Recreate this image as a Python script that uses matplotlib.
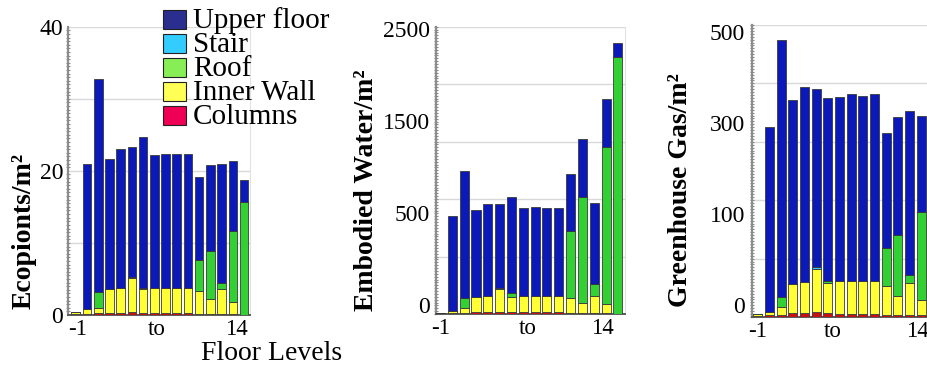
import matplotlib
matplotlib.use("Agg")
import matplotlib.pyplot as plt
from matplotlib.patches import Rectangle
from matplotlib.ticker import MultipleLocator
import numpy as np

# ---------------- data ----------------
floors = list(range(-1, 15))          # 16 floor levels
components = ["Columns", "Inner Wall", "Roof", "Stair", "Upper floor"]  # bottom -> top

eco_columns = [0.1, 0.2, 0.3, 0.3, 0.3, 0.4, 0.3, 0.3, 0.3, 0.3, 0.3, 0.2, 0.2, 0.2, 0.2, 0.0]
eco_inner   = [0.3, 0.6, 0.7, 3.3, 3.4, 4.7, 3.3, 3.4, 3.4, 3.4, 3.4, 3.1, 2.0, 3.4, 1.6, 0.0]
eco_roof    = [0.0, 0.0, 2.2, 0.0, 0.0, 0.0, 0.2, 0.0, 0.0, 0.0, 0.0, 4.3, 6.7, 0.9, 9.9, 15.7]
eco_stair   = [0.0, 0.0, 0.0, 0.0, 0.0, 0.15, 0.0, 0.0, 0.0, 0.0, 0.0, 0.0, 0.0, 0.0, 0.0, 0.0]
eco_upper   = [0.0, 20.1, 29.6, 18.1, 19.3, 18.0, 20.9, 18.5, 18.6, 18.6, 18.6, 11.5, 11.9, 16.4, 9.6, 3.0]

wat_columns = [5, 8, 12, 15, 15, 18, 15, 15, 15, 15, 15, 12, 10, 12, 8, 0]
wat_inner   = [7, 21, 37, 136, 142, 197, 136, 145, 145, 145, 145, 124, 83, 145, 76, 0]
wat_roof    = [0, 0, 87, 0, 0, 0, 29, 0, 0, 0, 0, 589, 928, 104, 1372, 2233]
wat_stair   = [0, 0, 0, 0, 0, 8, 0, 0, 0, 0, 0, 0, 0, 0, 0, 0]
wat_upper   = [0, 826, 1111, 754, 800, 734, 835, 759, 768, 765, 765, 490, 499, 702, 412, 122]

ghg_columns = [2, 3, 4, 6, 6, 8, 6, 5, 5, 5, 5, 4, 3, 4, 3, 0]
ghg_inner   = [2.6, 5.6, 13, 51, 54, 75, 52, 56, 56, 56, 56, 49, 33, 55, 26, 0]
ghg_roof    = [0, 0, 18, 0, 0, 0, 3, 0, 0, 0, 0, 65, 104, 13, 150, 243]
ghg_stair   = [0, 0, 0, 0, 0, 3, 0, 0, 0, 0, 0, 0, 0, 0, 0, 0]
ghg_upper   = [0, 316.4, 439, 314, 333, 305, 314, 316, 320, 317, 321, 197, 203, 281, 165, 51]

x_ticklabels = ["-1", "to", "14"]
y_labels = ["Ecopionts/m²", "Embodied Water/m²", "Greenhouse Gas/m²"]
legend_labels = ["Upper floor", "Stair", "Roof", "Inner Wall", "Columns"]
xlabel_text = "Floor Levels"

panel1_yticks = [0, 20, 40]
panel1_yticklabels = ["0", "20", "40"]
panel2_yticklabels = ["0", "500", "1500", "2500"]
panel3_yticklabels = ["0", "100", "300", "500"]

# ---------------- style ----------------
bar_colors = {"Columns": "#C81010", "Inner Wall": "#FFFF33", "Roof": "#33D033",
              "Stair": "#33C8F8", "Upper floor": "#0B19B8"}
legend_colors = ["#2A2E8E", "#33CCFF", "#88EE55", "#FFFF55", "#EE0055"]
SERIF = ["Liberation Serif", "DejaVu Serif"]
plt.rcParams["font.family"] = SERIF

W, H = 928, 367
fig = plt.figure(figsize=(W / 100, H / 100), dpi=100)
fig.patch.set_facecolor("white")


def px_axes(left, right, top, bottom):
    return fig.add_axes([left / W, 1 - bottom / H, (right - left) / W, (bottom - top) / H])


def draw_panel(ax, stacks, ylim, grid_step, minor_step, xlim, yticks, yticklabels,
               xticks, ylabel_pad):
    idx = np.arange(len(floors))
    bottom = np.zeros(len(floors))
    for name, vals in zip(components, stacks):
        vals = np.asarray(vals, dtype=float)
        ax.bar(idx, vals, width=0.77, bottom=bottom, color=bar_colors[name],
               edgecolor="#3a3a3a", linewidth=0.6, zorder=3)
        bottom += vals
    ax.set_xlim(*xlim)
    ax.set_ylim(0, ylim)
    for g in np.arange(grid_step, ylim + grid_step / 2, grid_step):
        ax.axhline(g, color="#d9d9d9", lw=1.0, zorder=0)
    ax.set_yticks(yticks)
    ax.set_yticklabels(yticklabels, fontsize=17)
    ax.yaxis.set_minor_locator(MultipleLocator(minor_step))
    ax.tick_params(axis="y", which="major", length=0, pad=ylabel_pad)
    ax.tick_params(axis="y", which="minor", length=2.5, width=0.8, color="#888888",
                   direction="inout")
    ax.set_xticks(xticks)
    ax.set_xticklabels(x_ticklabels, fontsize=16.5)
    ax.tick_params(axis="x", length=0, pad=3)
    ax.spines["top"].set_visible(False)
    ax.spines["right"].set_color("#e2e2e2")
    ax.spines["left"].set_color("#8c8c8c")
    ax.spines["left"].set_linewidth(1.6)
    ax.spines["bottom"].set_color("#5a5a5a")
    ax.spines["bottom"].set_linewidth(1.4)
    ax.set_facecolor("white")


# Panel 1 - Ecopoints
ax1 = px_axes(68, 250, 26.7, 315)
draw_panel(ax1, [eco_columns, eco_inner, eco_roof, eco_stair, eco_upper],
           40, 10, 0.5, (-0.69, 15.53), panel1_yticks, panel1_yticklabels,
           [0.15, 7.2, 14.35], 3.5)

# Panel 2 - Embodied water (tick labels evenly spaced as in the reference)
ax2 = px_axes(436, 625, 26.7, 314)
p2_ticks = list(np.linspace(0.031, 0.992, 4) * 2500)
draw_panel(ax2, [wat_columns, wat_inner, wat_roof, wat_stair, wat_upper],
           2500, 500, 25, (-0.38, 15.6), p2_ticks, panel2_yticklabels,
           [0.0, 7.35, 13.7], 4.5)

# Panel 3 - Greenhouse gas (extends beyond right edge, as in the reference)
ax3 = px_axes(752, 940, 25, 317)
p3_ticks = list(np.linspace(0.041, 0.977, 4) * 500)
draw_panel(ax3, [ghg_columns, ghg_inner, ghg_roof, ghg_stair, ghg_upper],
           500, 100, 5, (-0.49, 15.6), p3_ticks, panel3_yticklabels,
           [0.0, 6.45, 13.65], 5)

# Y labels
for (xc, yc), txt in zip([(24, 231), (367, 190), (681, 190)], y_labels):
    fig.text(xc / W, 1 - yc / H, txt, rotation=90, ha="center", va="center",
             fontsize=20, fontweight="bold")

# X label
fig.text(272 / W, 1 - 360 / H, xlabel_text, ha="center", va="baseline", fontsize=20)

# Legend (manual, upper-left between panels)
row_y0, row_step = 19.5, 24.0
for k, (lab, col) in enumerate(zip(legend_labels, legend_colors)):
    yc = row_y0 + k * row_step
    fig.patches.append(Rectangle((163 / W, 1 - (yc + 9.5) / H), 23 / W, 19 / H,
                                 transform=fig.transFigure, facecolor=col,
                                 edgecolor="#222222", linewidth=0.8, zorder=5))
    fig.text(193 / W, 1 - (yc + 8) / H, lab, ha="left", va="baseline", fontsize=21,
             zorder=6)

fig.savefig("out.png", dpi=100, facecolor="white")
